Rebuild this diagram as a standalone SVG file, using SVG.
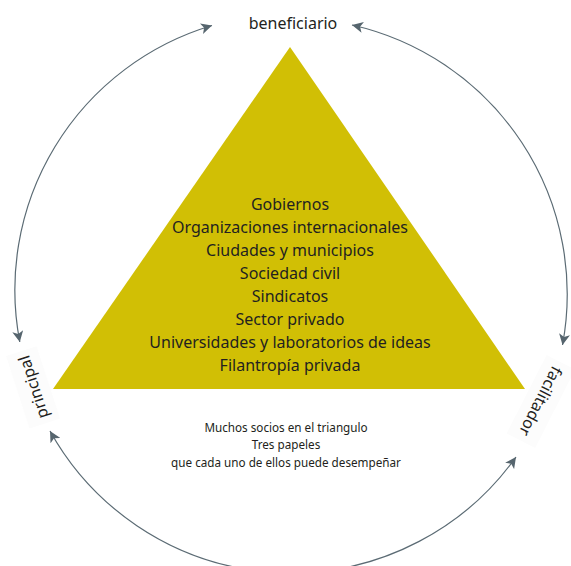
<svg xmlns="http://www.w3.org/2000/svg" width="571" height="566" viewBox="0 0 571 566">
<style>
.t{font-family:"Noto Sans","Open Sans",sans-serif;fill:#231f20;text-anchor:middle}
.big{font-size:16px}
.small{font-size:11.7px}
.arc{fill:none;stroke:#5b6b74;stroke-width:1.2}
</style>
<defs>
<marker id="ah" viewBox="0 0 10 10" refX="10" refY="5" markerWidth="11" markerHeight="11" markerUnits="userSpaceOnUse" orient="auto-start-reverse">
<path d="M0,0 L10,5 L0,10 L2.5,5 Z" fill="#56656e"/>
</marker>
</defs>
<rect width="571" height="566" fill="#ffffff"/>
<g id="triangle">
<polygon points="290,47 525,389 53,389" fill="#d1bf05"/>
<text class="t big" x="290" y="210">Gobiernos</text>
<text class="t big" x="290" y="233">Organizaciones internacionales</text>
<text class="t big" x="290" y="256">Ciudades y municipios</text>
<text class="t big" x="290" y="279">Sociedad civil</text>
<text class="t big" x="290" y="302">Sindicatos</text>
<text class="t big" x="290" y="325">Sector privado</text>
<text class="t big" x="290" y="348">Universidades y laboratorios de ideas</text>
<text class="t big" x="290" y="371">Filantropía privada</text>
</g>
<g id="caption">
<text class="t small" x="286" y="432">Muchos socios en el triangulo</text>
<text class="t small" x="286" y="449">Tres papeles</text>
<text class="t small" x="286" y="467">que cada uno de ellos puede desempeñar</text>
</g>
<g id="connectors">
<path class="arc" marker-start="url(#ah)" marker-end="url(#ah)" d="M19.8,342 A276,276 0 0 1 212,25.5"/>
<path class="arc" marker-start="url(#ah)" marker-end="url(#ah)" d="M352,25 A276,276 0 0 1 562.5,345"/>
<path class="arc" marker-start="url(#ah)" marker-end="url(#ah)" d="M50,431 A276,276 0 0 0 516,457"/>
</g>
<g id="beneficiario">
<text class="t big" x="293" y="28.5">beneficiario</text>
</g>
<g id="principal">
<g transform="translate(34,387) rotate(-108)">
<rect x="-38" y="-17" width="76" height="32" fill="#fcfcfc"/>
<text class="t big" x="0" y="5">principal</text>
</g>
</g>
<g id="facilitador">
<g transform="translate(540,401) rotate(117)">
<rect x="-44" y="-17" width="88" height="32" fill="#fcfcfc"/>
<text class="t big" x="0" y="5">facilitador</text>
</g>
</g>
</svg>
